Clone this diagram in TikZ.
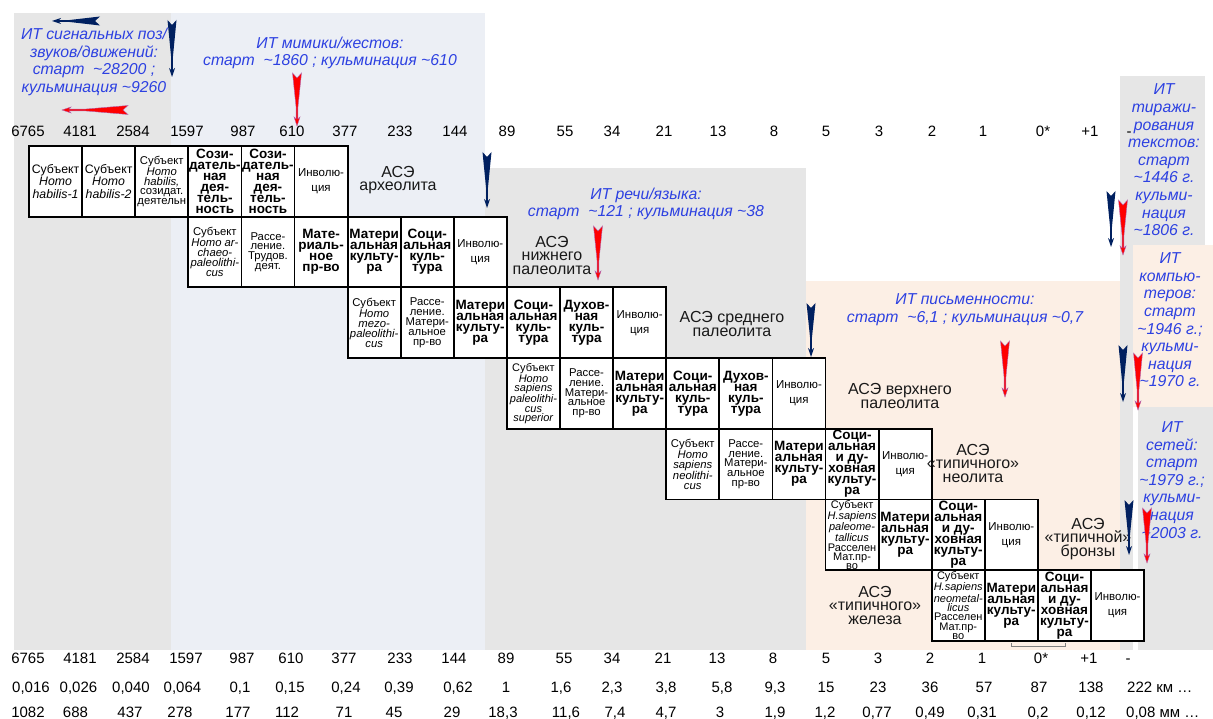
\documentclass[tikz,border=0pt]{standalone}
\usepackage{fontspec}
\setmainfont{Liberation Sans}
\definecolor{itblue}{RGB}{45,65,225}
\definecolor{arrnavy}{RGB}{0,32,96}
\definecolor{arrred}{RGB}{255,0,0}
\definecolor{bggray}{RGB}{230,230,230}
\definecolor{bgblue}{RGB}{236,239,245}
\definecolor{bgpeach}{RGB}{252,239,229}
\newcommand{\mytilde}{\textasciitilde}
\newcommand{\dspike}[4]{%
  \fill[#4] ({#1-4.5},#2) -- ({#1},{#2+5}) -- ({#1+4.5},#2) -- ({#1+0.9},{#2+0.65*(#3-#2)}) -- ({#1+0.9},{#3-7}) -- ({#1+3},{#3-9}) -- (#1,#3) -- ({#1-3},{#3-9}) -- ({#1-0.9},{#3-7}) -- ({#1-0.9},{#2+0.65*(#3-#2)}) -- cycle;}
\newcommand{\lspike}[4]{%
  \fill[#4] (#1,{#3-4.5}) -- ({#1-5},#3) -- (#1,{#3+4.5}) -- ({#1-0.65*(#1-#2)},{#3+0.9}) -- ({#2+7},{#3+0.9}) -- ({#2+9},{#3+3}) -- (#2,#3) -- ({#2+9},{#3-3}) -- ({#2+7},{#3-0.9}) -- ({#1-0.65*(#1-#2)},{#3-0.9}) -- cycle;}
\newcommand{\cellbox}[5]{%
  \node[cellframe] (#1) at ({29+53.1*(#2+0.5)},{146+70.7*(#3-0.5)}) {};
  \node[#4] (#1t) at (#1.center) {#5};}
\tikzset{
  cellframe/.style={draw, line width=1.8pt, fill=white, minimum width=53.1pt, minimum height=70.7pt, inner sep=0pt, outer sep=0pt},
  ctext/.style={align=center, inner sep=0pt, text=black},
  cellA/.style={ctext, font=\fontsize{12.3}{12.7}\selectfont},
  cellS/.style={ctext, font=\fontsize{11.3}{9.8}\selectfont},
  cellT/.style={ctext, font=\fontsize{11}{9.3}\selectfont},
  cellI/.style={ctext, font=\fontsize{11.5}{15}\selectfont},
  cellB/.style={ctext, font=\fontsize{13.5}{11}\selectfont\bfseries},
  num/.style={anchor=base, inner sep=0pt, font=\fontsize{15}{17}\selectfont, text=black},
  numw/.style={anchor=base west, inner sep=0pt, font=\fontsize{15}{17}\selectfont, text=black},
  ase/.style={align=center, inner sep=0pt, font=\fontsize{16}{13.5}\selectfont, text=black!90},
  itnote/.style={align=center, inner sep=0pt, font=\fontsize{15.8}{17.6}\selectfont\itshape, text=itblue},
  navyspike/.style={fill=arrnavy},
  redspike/.style={fill=arrred, draw=violet!60, line width=0.4pt}
}
\begin{document}
\begin{tikzpicture}[x=1pt,y=-1pt]
\useasboundingbox (0,0) rectangle (1213,719);
% backgrounds
\fill[bggray] (14,13) rectangle (171,650);
\fill[bgblue] (171,13) rectangle (485,650);
\fill[bggray] (485,168) rectangle (806,650);
\fill[bgpeach] (806,281) rectangle (1120,650);
\fill[bggray] (1120,76) rectangle (1205,245);
\fill[bggray] (1120,245) rectangle (1133,650);
\fill[bgpeach] (1133,245) rectangle (1213,407);
\fill[bggray] (1138,407) rectangle (1213,650);

% scale numbers
\foreach \v/\x [count=\i] in {6765/28,4181/80,2584/133,1597/187,987/243,610/292,377/345,233/400,144/455,89/507,55/565,34/612,21/664,13/718,8/774,5/826,3/879,2/932,1/983,0*/1043,+1/1090,-/1129}
  \node[num] (t\i) at (\x,136.4) {\v};
\foreach \v/\x [count=\i] in {6765/28,4181/80,2584/133,1597/186,987/242,610/291,377/344,233/400,144/454,89/506,55/564,34/612,21/663,13/717,8/773,5/826,3/878,2/930,1/982,0*/1041,+1/1089,-/1128}
  \node[num] (b\i) at (\x,663.4) {\v};
\foreach \v/\x [count=\i] in {{0,016}/31,{0,026}/78.5,{0,040}/131,{0,064}/182.5,{0,1}/240,{0,15}/290,{0,24}/346,{0,39}/399,{0,62}/458,1/506,{1,6}/561,{2,3}/612,{3,8}/666,{5,8}/722,{9,3}/775,15/826,23/878,36/930,57/984,87/1039,138/1091}
  \node[num] (k\i) at (\x,692.4) {\v};
\node[numw] (k22) at (1127,692.4) {222 км …};
\foreach \v/\x [count=\i] in {1082/28,688/75.5,437/130,278/180,177/238,112/287,71/344,45/394,29/452,{18,3}/503,{11,6}/566,{7,4}/615,{4,7}/666,3/720,{1,9}/775,{1,2}/825,{0,77}/877,{0,49}/930,{0,31}/982,{0,2}/1038,{0,12}/1091}
  \node[num] (m\i) at (\x,717.4) {\v};
\node[numw] (m22) at (1126,717.4) {0,08 мм …};

% row 1
\cellbox{a1}{0}{1}{cellA}{Субъект\\\textit{Homo}\\\textit{habilis-1}}
\cellbox{a2}{1}{1}{cellA}{Субъект\\\textit{Homo}\\\textit{habilis-2}}
\cellbox{a3}{2}{1}{cellS}{Субъект\\\textit{Homo}\\\textit{habilis,}\\созидат.\\деятельн}
\cellbox{a4}{3}{1}{cellB}{Сози-\\датель-\\ная\\дея-\\тель-\\ность}
\cellbox{a5}{4}{1}{cellB}{Сози-\\датель-\\ная\\дея-\\тель-\\ность}
\cellbox{a6}{5}{1}{cellI}{Инволю-\\ция}
% row 2
\cellbox{b1}{3}{2}{cellS}{Субъект\\\textit{Homo ar-}\\\textit{chaeo-}\\\textit{paleolithi-}\\\textit{cus}}
\cellbox{b2}{4}{2}{cellS}{Рассе-\\ление.\\Трудов.\\деят.}
\cellbox{b3}{5}{2}{cellB}{Мате-\\риаль-\\ное\\пр-во}
\cellbox{b4}{6}{2}{cellB}{Матери\\альная\\культу-\\ра}
\cellbox{b5}{7}{2}{cellB}{Соци-\\альная\\куль-\\тура}
\cellbox{b6}{8}{2}{cellI}{Инволю-\\ция}
% row 3
\cellbox{c1}{6}{3}{cellS}{Субъект\\\textit{Homo}\\\textit{mezo-}\\\textit{paleolithi-}\\\textit{cus}}
\cellbox{c2}{7}{3}{cellS}{Рассе-\\ление.\\Матери-\\альное\\пр-во}
\cellbox{c3}{8}{3}{cellB}{Матери\\альная\\культу-\\ра}
\cellbox{c4}{9}{3}{cellB}{Соци-\\альная\\куль-\\тура}
\cellbox{c5}{10}{3}{cellB}{Духов-\\ная\\куль-\\тура}
\cellbox{c6}{11}{3}{cellI}{Инволю-\\ция}
% row 4
\cellbox{d1}{9}{4}{cellT}{Субъект\\\textit{Homo}\\\textit{sapiens}\\\textit{paleolithi-}\\\textit{cus}\\\textit{superior}}
\cellbox{d2}{10}{4}{cellS}{Рассе-\\ление.\\Матери-\\альное\\пр-во}
\cellbox{d3}{11}{4}{cellB}{Матери\\альная\\культу-\\ра}
\cellbox{d4}{12}{4}{cellB}{Соци-\\альная\\куль-\\тура}
\cellbox{d5}{13}{4}{cellB}{Духов-\\ная\\куль-\\тура}
\cellbox{d6}{14}{4}{cellI}{Инволю-\\ция}
% row 5
\cellbox{e1}{12}{5}{cellS}{Субъект\\\textit{Homo}\\\textit{sapiens}\\\textit{neolithi-}\\\textit{cus}}
\cellbox{e2}{13}{5}{cellS}{Рассе-\\ление.\\Матери-\\альное\\пр-во}
\cellbox{e3}{14}{5}{cellB}{Матери\\альная\\культу-\\ра}
\cellbox{e4}{15}{5}{cellB}{Соци-\\альная\\и ду-\\ховная\\культу-\\ра}
\cellbox{e5}{16}{5}{cellI}{Инволю-\\ция}
% row 6
\cellbox{f1}{15}{6}{cellT}{Субъект\\\textit{H.sapiens}\\\textit{paleome-}\\\textit{tallicus}\\Расселен\\Мат.пр-\\во}
\cellbox{f2}{16}{6}{cellB}{Матери\\альная\\культу-\\ра}
\cellbox{f3}{17}{6}{cellB}{Соци-\\альная\\и ду-\\ховная\\культу-\\ра}
\cellbox{f4}{18}{6}{cellI}{Инволю-\\ция}
% row 7
\cellbox{g1}{17}{7}{cellT}{Субъект\\\textit{H.sapiens}\\\textit{neometal-}\\\textit{licus}\\Расселен\\Мат.пр-\\во}
\cellbox{g2}{18}{7}{cellB}{Матери\\альная\\культу-\\ра}
\cellbox{g3}{19}{7}{cellB}{Соци-\\альная\\и ду-\\ховная\\культу-\\ра}
\cellbox{g4}{20}{7}{cellI}{Инволю-\\ция}
\draw[gray, line width=0.6pt] (1011,643) -- (1011,646) -- (1065,646) -- (1065,643);

% era labels
\node[ase] (ase1) at (398,180) {АСЭ\\археолита};
\node[ase] (ase2) at (552,255) {АСЭ\\нижнего\\палеолита};
\node[ase] (ase3) at (732,324) {АСЭ среднего\\палеолита};
\node[ase] (ase4) at (900,396) {АСЭ верхнего\\палеолита};
\node[ase] (ase5) at (973,463) {АСЭ\\«типичного»\\неолита};
\node[ase] (ase6) at (1088,539) {АСЭ\\«типичной»\\бронзы};
\node[ase] (ase7) at (875,605) {АСЭ\\«типичного»\\железа};

% IT notes
\node[itnote] (n1) at (94,62) {ИТ сигнальных поз/\\звуков/движений:\\старт\ \ \mytilde28200 ;\\кульминация \mytilde9260};
\node[itnote] (n2) at (330,53) {ИТ мимики/жестов:\\старт\ \ \mytilde1860 ; кульминация \mytilde610};
\node[itnote] (n3) at (646,204) {ИТ речи/языка:\\старт\ \ \mytilde121 ; кульминация \mytilde38};
\node[itnote] (n4) at (965,310) {ИТ письменности:\\старт\ \ \mytilde6,1 ; кульминация \mytilde0,7};
\node[itnote] (n5) at (1164,160) {ИТ\\тиражи-\\рования\\текстов:\\старт\\\mytilde1446 г.\\кульми-\\нация\\\mytilde1806 г.};
\node[itnote] (n6) at (1170,320) {ИТ\\компью-\\теров:\\старт\\\mytilde1946 г.;\\кульми-\\нация\\\mytilde1970 г.};
\node[itnote] (n7) at (1172,480) {ИТ\\сетей:\\старт\\\mytilde1979 г.;\\кульми-\\нация\\\mytilde2003 г.};

% spikes
\lspike{100}{52}{21}{navyspike}
\lspike{128}{62}{110}{redspike}
\dspike{172}{20}{77}{navyspike}
\dspike{297}{73}{126}{redspike}
\dspike{487}{152}{208}{navyspike}
\dspike{598}{226}{280}{redspike}
\dspike{811}{303}{357}{navyspike}
\dspike{1005}{341}{397}{redspike}
\dspike{1111}{191}{247}{navyspike}
\dspike{1123}{200}{255}{redspike}
\dspike{1123}{345}{402}{navyspike}
\dspike{1138}{353}{410}{redspike}
\dspike{1129}{500}{555}{navyspike}
\dspike{1147}{508}{563}{redspike}
\end{tikzpicture}
\end{document}
